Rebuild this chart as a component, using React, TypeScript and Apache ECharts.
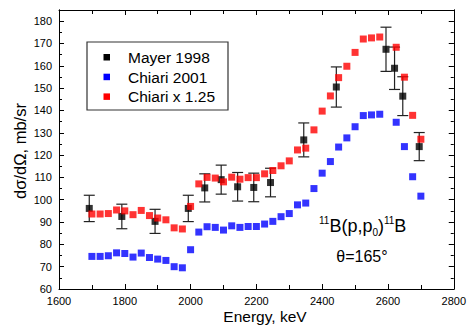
import React, { useEffect, useRef } from "react";
import * as echarts from "echarts";

const chiariEnergy = [
  1700, 1725, 1750, 1775, 1800, 1825, 1850, 1875, 1900, 1925, 1950, 1975,
  2000, 2025, 2050, 2075, 2100, 2125, 2150, 2175, 2200, 2225, 2250, 2275,
  2300, 2325, 2350, 2375, 2400, 2425, 2450, 2475, 2500, 2525, 2550, 2575,
  2625, 2650, 2675, 2700,
];
const chiari2001 = [
  74.6, 74.6, 74.9, 76.2, 75.9, 74.3, 76.1, 74.1, 73.4, 72.8, 70.0, 69.5,
  77.6, 85.5, 87.9, 87.6, 86.4, 88.3, 87.6, 88.0, 88.0, 89.1, 90.3, 92.4,
  93.8, 97.7, 98.5, 105.0, 111.9, 117.1, 123.6, 127.7, 132.7, 137.7, 138.0, 138.3,
  134.7, 123.8, 110.3, 101.6,
];
const chiariScaled = [
  93.6, 93.6, 93.8, 95.4, 95.0, 93.3, 95.2, 92.9, 91.8, 91.0, 87.4, 86.9,
  97.0, 107.1, 110.0, 109.7, 108.0, 110.1, 109.2, 109.9, 109.9, 111.6, 113.1, 115.2,
  117.4, 122.3, 123.1, 131.3, 139.7, 146.5, 154.7, 159.8, 166.0, 172.0, 172.5, 172.9,
  168.3, 154.9, 137.8, 127.1,
];
const mayerEnergy = [1692, 1791, 1892, 1993, 2043, 2093, 2143, 2192, 2243, 2344, 2443, 2594, 2620, 2645, 2695];
const mayer1998 = [96.1, 92.5, 90.3, 96.1, 105.3, 109.0, 105.8, 105.5, 107.7, 126.8, 150.5, 167.4, 158.9, 146.4, 123.8];
const mayerError = [5.9, 5.5, 5.4, 5.9, 6.3, 6.5, 6.4, 6.4, 6.4, 7.6, 9.0, 9.9, 9.5, 8.7, 6.3];

const legendNames = ["Mayer 1998", "Chiari 2001", "Chiari x 1.25"];
const legendColors = ["#000000", "#0000ff", "#ff0000"];

const FONT = "'Liberation Sans', Arial, sans-serif";

export default function App() {
  const ref = useRef<HTMLDivElement>(null);
  useEffect(() => {
    if (!ref.current) return;
    const chart = echarts.init(ref.current, undefined, { renderer: "svg" });
    const axisLine = { show: true, lineStyle: { color: "#000", width: 1 } };
    const baseX = {
      type: "value" as const,
      min: 1600,
      max: 2800,
      interval: 200,
      axisLine,
      splitLine: { show: false },
      axisTick: { show: true, inside: true, length: 5, lineStyle: { color: "#000" } },
      minorTick: { show: true, splitNumber: 2, length: 4, lineStyle: { color: "#000" } },
    };
    const baseY = {
      type: "value" as const,
      min: 60,
      max: 185,
      axisLine,
      splitLine: { show: false },
    };
    const option: any = {
      animation: false,
      backgroundColor: "#fff",
      grid: { left: 59, right: 15, top: 10, bottom: 40, containLabel: false },
      xAxis: [
        {
          ...baseX,
          position: "bottom",
          axisLabel: {
            color: "#000",
            fontSize: 11,
            fontFamily: FONT,
            margin: 6,
            formatter: (v: number) => String(v),
          },
        },
        { ...baseX, position: "top", axisLabel: { show: false } },
      ],
      yAxis: [
        {
          ...baseY,
          position: "left",
          interval: 10,
          axisTick: { show: true, inside: true, length: 5, lineStyle: { color: "#000" } },
          axisLabel: {
            color: "#000",
            fontSize: 11,
            fontFamily: FONT,
            margin: 7,
            formatter: (v: number) => (v % 10 === 0 && v <= 180 ? String(v) : ""),
          },
        },
        {
          ...baseY,
          position: "left",
          interval: 5,
          axisTick: { show: true, inside: true, length: 3, lineStyle: { color: "#000" } },
          axisLabel: { show: false },
        },
        {
          ...baseY,
          position: "right",
          interval: 10,
          axisTick: { show: true, inside: true, length: 5, lineStyle: { color: "#000" } },
          axisLabel: { show: false },
        },
        {
          ...baseY,
          position: "right",
          interval: 5,
          axisTick: { show: true, inside: true, length: 3, lineStyle: { color: "#000" } },
          axisLabel: { show: false },
        },
      ],
      series: [
        {
          type: "custom",
          name: "Mayer 1998 error",
          xAxisIndex: 0,
          yAxisIndex: 0,
          data: mayerEnergy.map((x, i) => [x, mayer1998[i], mayerError[i]]),
          encode: { x: 0, y: 1 },
          z: 1,
          renderItem: (_params: any, api: any) => {
            const x = api.value(0);
            const y = api.value(1);
            const e = api.value(2);
            const top = api.coord([x, y + e]);
            const bot = api.coord([x, y - e]);
            const hw = 5.5;
            const style = { stroke: "#222", lineWidth: 1.2 };
            return {
              type: "group",
              children: [
                { type: "line", shape: { x1: top[0], y1: top[1], x2: bot[0], y2: bot[1] }, style },
                { type: "line", shape: { x1: top[0] - hw, y1: top[1], x2: top[0] + hw, y2: top[1] }, style },
                { type: "line", shape: { x1: bot[0] - hw, y1: bot[1], x2: bot[0] + hw, y2: bot[1] }, style },
              ],
            };
          },
        },
        {
          type: "scatter",
          name: legendNames[0],
          symbol: "rect",
          symbolSize: 7,
          itemStyle: { color: legendColors[0] },
          z: 2,
          data: mayerEnergy.map((x, i) => [x, mayer1998[i]]),
        },
        {
          type: "scatter",
          name: legendNames[1],
          symbol: "rect",
          symbolSize: 7,
          itemStyle: { color: legendColors[1] },
          z: 3,
          data: chiariEnergy.map((x, i) => [x, chiari2001[i]]),
        },
        {
          type: "scatter",
          name: legendNames[2],
          symbol: "rect",
          symbolSize: 7,
          itemStyle: { color: legendColors[2] },
          z: 4,
          data: chiariEnergy.map((x, i) => [x, chiariScaled[i]]),
        },
      ],
      graphic: [
        {
          type: "rect",
          shape: { x: 87, y: 42, width: 141, height: 68 },
          style: { fill: "#fff", stroke: "#333", lineWidth: 1.2 },
          z: 10,
        },
        ...legendNames.flatMap((name, i) => [
          {
            type: "rect",
            shape: { x: 103.5, y: 54 + i * 19.7, width: 6.5, height: 6.5 },
            style: { fill: legendColors[i] },
            z: 11,
          },
          {
            type: "text",
            x: 128,
            y: 57.3 + i * 19.7,
            style: {
              text: name,
              fill: "#000",
              fontSize: 15.5,
              fontWeight: "normal",
              fontFamily: FONT,
              verticalAlign: "middle",
              align: "left",
            },
            z: 11,
          },
        ]),
        {
          type: "text",
          x: 319,
          y: 226,
          style: {
            text: "{sup|11}{m|B(p,p}{sub|0}{m|)}{sup|11}{m|B}",
            verticalAlign: "middle",
            align: "left",
            rich: {
              m: { fontSize: 18, fontWeight: "normal", fontFamily: FONT, fill: "#000", lineHeight: 22 },
              sup: { fontSize: 10, fontWeight: "normal", fontFamily: FONT, fill: "#000", lineHeight: 12, verticalAlign: "top" },
              sub: { fontSize: 10, fontWeight: "normal", fontFamily: FONT, fill: "#000", lineHeight: 10, verticalAlign: "bottom" },
            },
          },
          z: 11,
        },
        {
          type: "text",
          x: 362,
          y: 256,
          style: {
            text: "θ=165°",
            fill: "#000",
            fontSize: 16,
            fontWeight: "normal",
            fontFamily: FONT,
            align: "center",
            verticalAlign: "middle",
          },
          z: 11,
        },
        {
          type: "text",
          x: 265,
          y: 316,
          style: {
            text: "Energy, keV",
            fill: "#000",
            fontSize: 15.5,
            fontWeight: "normal",
            fontFamily: FONT,
            align: "center",
            verticalAlign: "middle",
          },
        },
        {
          type: "text",
          x: 20,
          y: 151,
          rotation: Math.PI / 2,
          style: {
            text: "dσ/dΩ, mb/sr",
            fill: "#000",
            fontSize: 16.5,
            fontWeight: "normal",
            fontFamily: FONT,
            align: "center",
            verticalAlign: "middle",
          },
        },
      ],
    };
    chart.setOption(option);
    return () => chart.dispose();
  }, []);
  return (
    <div
      ref={ref}
      style={{ position: "fixed", left: 0, top: 0, width: 469, height: 329, background: "#fff" }}
    />
  );
}
